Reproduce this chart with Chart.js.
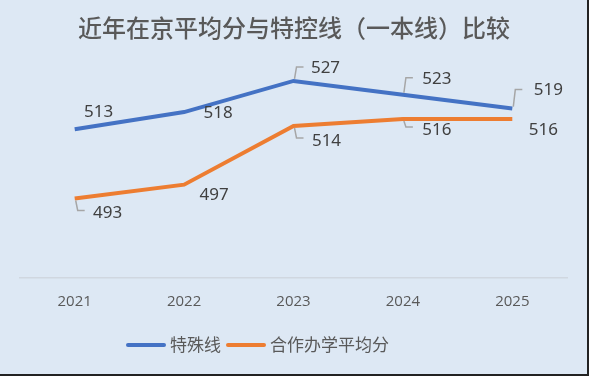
<!DOCTYPE html>
<html>
<head>
<meta charset="utf-8">
<script src="https://cdn.jsdelivr.net/npm/chart.js@4"></script>
<style>
  html, body { margin: 0; padding: 0; background: #dde8f4; }
  #wrap { width: 587px; height: 374px; border-right: 2px solid #222; border-bottom: 2px solid #222; background: #dde8f4; }
</style>
</head>
<body>
<div id="wrap"><canvas id="chart" width="587" height="374"></canvas></div>
<script>
// data
const years = ['2021', '2022', '2023', '2024', '2025'];
const specialLine = [513, 518, 527, 523, 519];
const coopAverage = [493, 497, 514, 516, 516];
const titleText = '近年在京平均分与特控线（一本线）比较';

// title + legend drawn by hand so they sit where Excel put them
const decorPlugin = {
  id: 'decor',
  afterDraw(chart) {
    const ctx = chart.ctx;
    ctx.save();
    ctx.font = '500 24px "Noto Sans CJK SC"';
    ctx.fillStyle = '#595959';
    ctx.textAlign = 'center';
    ctx.textBaseline = 'middle';
    ctx.fillText(titleText, 294, 28);

    // legend
    ctx.font = '17px "Noto Sans CJK SC"';
    ctx.textAlign = 'left';
    let x = 127;
    const y = 345;
    chart.data.datasets.forEach(ds => {
      ctx.strokeStyle = ds.borderColor;
      ctx.lineWidth = 4;
      ctx.lineCap = 'round';
      ctx.beginPath();
      ctx.moveTo(x + 1, y);
      ctx.lineTo(x + 37, y);
      ctx.stroke();
      x += 43;
      ctx.fillStyle = '#595959';
      ctx.fillText(ds.label, x, y);
      x += ctx.measureText(ds.label).width + 6;
    });
    ctx.restore();
  }
};

// value labels with small leader lines, like Excel
const labelPlugin = {
  id: 'valueLabels',
  afterDatasetsDraw(chart) {
    const ctx = chart.ctx;
    ctx.save();
    ctx.font = '17px "Noto Sans"';
    ctx.textAlign = 'center';
    ctx.textBaseline = 'middle';
    chart.data.datasets.forEach((ds, i) => {
      const meta = chart.getDatasetMeta(i);
      meta.data.forEach((pt, j) => {
        const off = ds.labelOffsets[j];
        const lx = pt.x + off[0];
        const ly = pt.y + off[1];
        if (off[2]) {
          // leader: vertical from point, then short horizontal toward text
          const dir = off[1] < 0 ? -1 : 1;
          const ey = ly + (dir < 0 ? -1 : -3);
          ctx.strokeStyle = '#a6a6a6';
          ctx.lineWidth = 1.5;
          ctx.beginPath();
          ctx.moveTo(pt.x + 1, pt.y + dir * 2);
          ctx.lineTo(pt.x + 3, ey);
          ctx.lineTo(pt.x + 10, ey);
          ctx.stroke();
        }
        ctx.fillStyle = '#404040';
        ctx.fillText(ds.data[j], lx, ly);
      });
    });
    ctx.restore();
  }
};

new Chart(document.getElementById('chart'), {
  type: 'line',
  data: {
    labels: years,
    datasets: [
      {
        label: '特殊线',
        data: specialLine,
        borderColor: '#4472c4',
        backgroundColor: '#4472c4',
        borderWidth: 4,
        pointRadius: 0,
        tension: 0,
        labelOffsets: [[24, -17, 0], [34, 1, 0], [32, -13, 1], [34, -16, 1], [36, -18, 1]]
      },
      {
        label: '合作办学平均分',
        data: coopAverage,
        borderColor: '#ed7d31',
        backgroundColor: '#ed7d31',
        borderWidth: 4,
        pointRadius: 0,
        tension: 0,
        labelOffsets: [[33, 15, 1], [30, 10, 0], [33, 15, 1], [34, 11, 1], [31, 11, 0]]
      }
    ]
  },
  options: {
    responsive: false,
    animation: false,
    layout: { padding: { top: 36, left: 20, right: 20, bottom: 56 } },
    plugins: {
      title: { display: false },
      tooltip: { enabled: false },
      legend: { display: false }
    },
    scales: {
      x: {
        offset: true,
        grid: { display: false },
        border: { color: '#d0d7e0', width: 1.5 },
        ticks: { color: '#595959', padding: 7, font: { family: '"Open Sans"', size: 15 } }
      },
      y: {
        display: false,
        min: 470,
        max: 540
      }
    }
  },
  plugins: [decorPlugin, labelPlugin]
});
</script>
</body>
</html>
